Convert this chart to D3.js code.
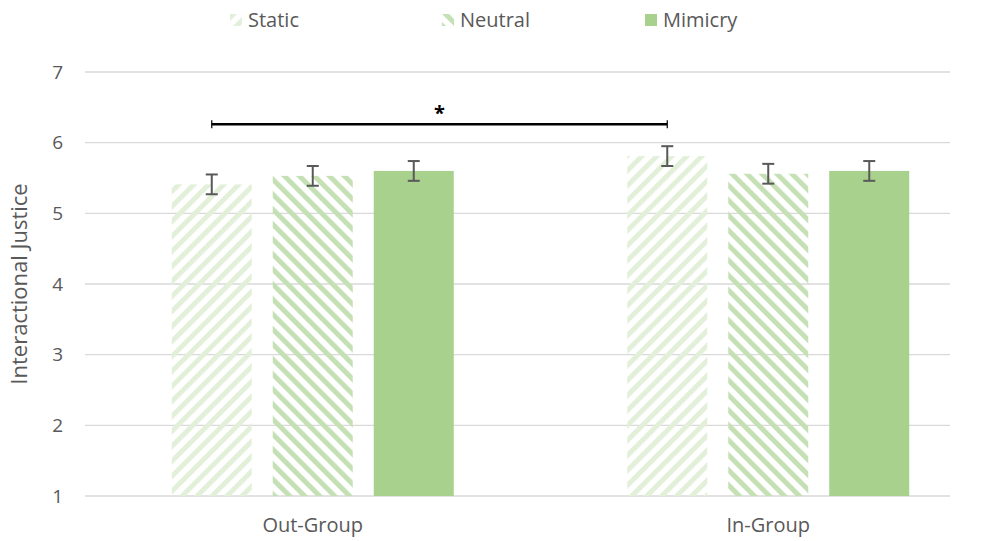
<!DOCTYPE html>
<html>
<head>
<meta charset="utf-8">
<script src="https://cdn.jsdelivr.net/npm/d3@7"></script>
<style>
  body { margin: 0; background: #fff; }
  svg { font-family: "Open Sans", "Liberation Sans", sans-serif; }
</style>
</head>
<body>
<svg id="chart" width="985" height="541"></svg>
<script>
// data
const groups = ["Out-Group", "In-Group"];
const series = ["Static", "Neutral", "Mimicry"];
const outGroupValues = [5.41, 5.53, 5.60];
const inGroupValues = [5.81, 5.56, 5.60];
const outGroupErrors = [0.14, 0.14, 0.14];
const inGroupErrors = [0.14, 0.14, 0.14];
const yTicks = [1, 2, 3, 4, 5, 6, 7];
const sigPair = [["Out-Group", "Static"], ["In-Group", "Static"]];
const sigLevel = 6.26;

const rows = [];
groups.forEach((g, gi) => {
    let vals = gi == 0 ? outGroupValues : inGroupValues;
    let errs = gi == 0 ? outGroupErrors : inGroupErrors;
    series.forEach((s, si) => {
        rows.push({group: g, series: s, value: vals[si], err: errs[si]});
    });
});

const svg = d3.select("#chart");

let xl = 85, xr = 996, gridRight = 950;
let yTop = 72, yBottom = 496;

let x0 = d3.scaleBand().domain(groups).range([xl, xr]);
let x1 = d3.scaleBand().domain(series).range([0, x0.bandwidth()])
    .paddingInner(21 / 101).paddingOuter(0.859);
let y = d3.scaleLinear().domain([1, 7]).range([yBottom, yTop]);

// patterns
const defs = svg.append("defs");
function stripes(id, color, angle) {
    let p = defs.append("pattern")
        .attr("id", id)
        .attr("patternUnits", "userSpaceOnUse")
        .attr("width", 10.6).attr("height", 10.6)
        .attr("patternTransform", "rotate(" + angle + ")");
    p.append("rect").attr("width", 5).attr("height", 10.6).attr("fill", color);
}
stripes("pStatic", "#e2f0d9", 45);
stripes("pNeutral", "#c5e0b4", -45);

const fills = {
    "Static": "url(#pStatic)",
    "Neutral": "url(#pNeutral)",
    "Mimicry": "#a9d18e"
};

// gridlines
svg.append("g").selectAll("line")
    .data(yTicks)
    .enter().append("line")
    .attr("x1", xl).attr("x2", gridRight)
    .attr("y1", d => y(d)).attr("y2", d => y(d))
    .attr("stroke", "#d9d9d9").attr("stroke-width", 1.3);

// y labels
svg.append("g").selectAll("text")
    .data(yTicks)
    .enter().append("text")
    .attr("x", 63).attr("y", d => y(d))
    .attr("dy", "0.35em")
    .attr("text-anchor", "end")
    .attr("font-size", 19)
    .attr("fill", "#595959")
    .text(d => d);

svg.append("text")
    .attr("transform", "translate(27," + ((yTop + yBottom) / 2) + ") rotate(-90)")
    .attr("text-anchor", "middle")
    .attr("font-size", 22)
    .attr("fill", "#595959")
    .text("Interactional Justice");

// x labels
svg.append("g").selectAll("text")
    .data(groups)
    .enter().append("text")
    .attr("x", d => x0(d) + x0.bandwidth() / 2)
    .attr("y", 532)
    .attr("text-anchor", "middle")
    .attr("font-size", 20)
    .attr("fill", "#595959")
    .text(d => d);

// bars
svg.append("g").selectAll("rect")
    .data(rows)
    .enter().append("rect")
    .attr("x", d => x0(d.group) + x1(d.series))
    .attr("y", d => y(d.value))
    .attr("width", x1.bandwidth())
    .attr("height", d => y(1) - y(d.value))
    .attr("fill", d => fills[d.series]);

// error bars
let eb = svg.append("g").attr("stroke", "#595959").attr("stroke-width", 2);
rows.forEach(d => {
    let cx = x0(d.group) + x1(d.series) + x1.bandwidth() / 2;
    let t = y(d.value + d.err), b = y(d.value - d.err);
    eb.append("line").attr("x1", cx).attr("x2", cx).attr("y1", t).attr("y2", b);
    eb.append("line").attr("x1", cx - 6).attr("x2", cx + 6).attr("y1", t).attr("y2", t);
    eb.append("line").attr("x1", cx - 6).attr("x2", cx + 6).attr("y1", b).attr("y2", b);
});

// significance bracket
let sx1 = x0(sigPair[0][0]) + x1(sigPair[0][1]) + x1.bandwidth() / 2;
let sx2 = x0(sigPair[1][0]) + x1(sigPair[1][1]) + x1.bandwidth() / 2;
let sy = y(sigLevel);
let br = svg.append("g").attr("stroke", "#000");
br.append("line").attr("x1", sx1).attr("x2", sx2).attr("y1", sy).attr("y2", sy).attr("stroke-width", 2.5);
br.append("line").attr("x1", sx1).attr("x2", sx1).attr("y1", sy - 4).attr("y2", sy + 4).attr("stroke-width", 1.2);
br.append("line").attr("x1", sx2).attr("x2", sx2).attr("y1", sy - 4).attr("y2", sy + 4).attr("stroke-width", 1.2);
svg.append("text")
    .attr("x", (sx1 + sx2) / 2).attr("y", sy - 4)
    .attr("text-anchor", "middle")
    .attr("font-size", 20).attr("font-weight", "bold")
    .attr("fill", "#000")
    .text("*");

// legend
const legendX = [230, 442, 645];
let lg = svg.append("g").selectAll("g")
    .data(series)
    .enter().append("g")
    .attr("transform", (d, i) => "translate(" + legendX[i] + ",14)");
lg.append("rect").attr("width", 12).attr("height", 12).attr("fill", d => fills[d]);
lg.append("text")
    .attr("x", 18).attr("y", 6).attr("dy", "0.35em")
    .attr("font-size", 20).attr("fill", "#595959")
    .text(d => d);
</script>
</body>
</html>
